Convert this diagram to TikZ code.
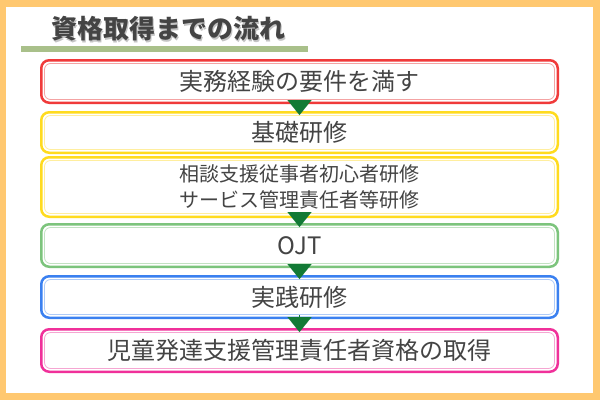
\documentclass[tikz,border=0pt]{standalone}
\usepackage{fontspec}
\newfontfamily\jpfont{Noto Sans CJK JP}
\usetikzlibrary{positioning, arrows.meta}
\definecolor{frameorange}{HTML}{FFC870}
\definecolor{bargreen}{HTML}{A9C08A}
\definecolor{textgray}{HTML}{444444}
\definecolor{shadowgray}{HTML}{C4C4C4}
\definecolor{arrowgreen}{HTML}{127A35}
\definecolor{redout}{HTML}{F03A3A}
\definecolor{redin}{HTML}{F4A3A3}
\definecolor{yellowout}{HTML}{FFDB1E}
\definecolor{yellowin}{HTML}{FFEE9E}
\definecolor{greenout}{HTML}{7CC47C}
\definecolor{greenin}{HTML}{C2E2C2}
\definecolor{blueout}{HTML}{3A80F0}
\definecolor{bluein}{HTML}{AECBF8}
\definecolor{pinkout}{HTML}{F0309A}
\definecolor{pinkin}{HTML}{F5A6D2}

\begin{document}
\begin{tikzpicture}[x=1pt,y=-1pt]
        % Define styles for shapes
        \tikzset{
            stepbox/.style={draw=#1, fill=white, line width=2.5pt, rounded corners=8pt, minimum width=516.5pt, inner sep=0pt, align=center, text=textgray, font=\jpfont\fontsize{24}{28}\selectfont},
            innerline/.style={draw=#1, line width=0.8pt, rounded corners=6pt},
            flowarrow/.style={-{Triangle[length=15pt,width=24pt]}, line width=0.1pt, draw=arrowgreen, fill=arrowgreen},
            titletext/.style={font=\jpfont\bfseries\fontsize{26}{30}\selectfont, inner sep=0pt}
        }
        \useasboundingbox (0,0) rectangle (600,400);
        % Frame
        \fill[frameorange] (0,0) rectangle (600,400);
        \fill[white] (6,7) rectangle (593,393);
        % Title
        \node[titletext, text=shadowgray] (titleshadow) at (169.5,30.5) {資格取得までの流れ};
        \node[titletext, text=textgray] (title) at (168,29) {資格取得までの流れ};
        \fill[bargreen] (21,46) rectangle (308,52);
        % Draw steps
        \node[stepbox=redout, minimum height=42.5pt] (b1) at (299.5,81.5) {実務経験の要件を満す};
        \node[stepbox=yellowout, minimum height=40.5pt] (b2) at (299.5,132.5) {基礎研修};
        \node[stepbox=yellowout, minimum height=59.5pt, font=\jpfont\fontsize{20}{26}\selectfont] (b3) at (299.5,187) {相談支援従事者初心者研修\\サービス管理責任者等研修};
        \node[stepbox=greenout, minimum height=42.5pt] (b4) at (299.5,245.5) {OJT};
        \node[stepbox=blueout, minimum height=41.5pt] (b5) at (299.5,297) {実践研修};
        \node[stepbox=pinkout, minimum height=42.5pt] (b6) at (299.5,350.5) {児童発達支援管理責任者資格の取得};
        \foreach \b/\c in {b1/redin, b2/yellowin, b3/yellowin, b4/greenin, b5/bluein, b6/pinkin}
            \draw[innerline=\c] ([shift={(4.5,4.5)}]\b.north west) rectangle ([shift={(-4.5,-4.5)}]\b.south east);
        % Draw arrows
        \draw[flowarrow] ([yshift=4pt]b1.south) -- ([yshift=-4pt]b2.north);
        \draw[flowarrow] ([yshift=4pt]b3.south) -- ([yshift=-4pt]b4.north);
        \draw[flowarrow] ([yshift=4pt]b4.south) -- ([yshift=-4pt]b5.north);
        \draw[flowarrow] ([yshift=4pt]b5.south) -- ([yshift=-4pt]b6.north);
    \end{tikzpicture}
\end{document}
